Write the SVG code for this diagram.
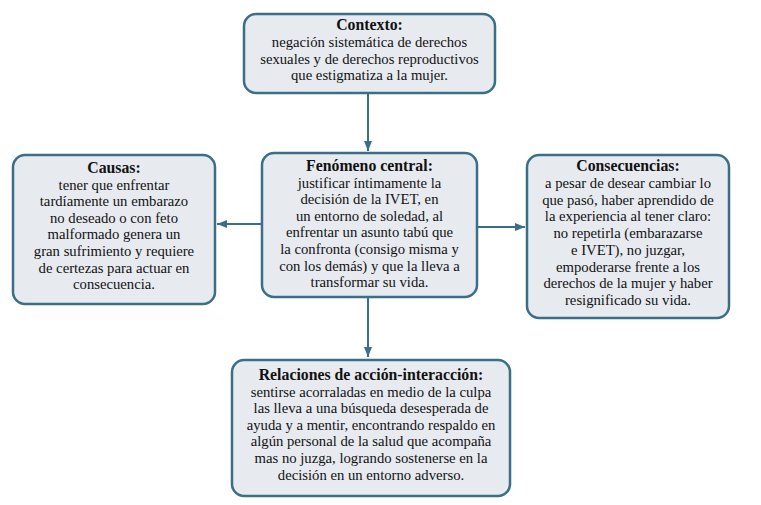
<svg xmlns="http://www.w3.org/2000/svg" width="761" height="505" viewBox="0 0 761 505">
<defs>
<style>
.box{fill:#e7ebf0;stroke:#3b6f88;stroke-width:2.5}
.t{font-family:"Liberation Serif","Times New Roman",serif;font-size:14.7px;fill:#111111;text-anchor:middle}
.b{font-weight:bold;font-size:15.8px}
.c{stroke:#3b6f88;stroke-width:2;fill:none}
</style>
<marker id="ah" viewBox="0 0 10 8" refX="10" refY="4" markerWidth="10" markerHeight="8" orient="auto" markerUnits="userSpaceOnUse">
<path d="M0,0 L10,4 L0,8 z" fill="#3b6f88"/>
</marker>
</defs>
<rect width="761" height="505" fill="#ffffff"/>
<g id="connectors">
<line class="c" x1="368" y1="94" x2="368" y2="151" marker-end="url(#ah)"/>
<line class="c" x1="262" y1="224" x2="217" y2="224" marker-end="url(#ah)"/>
<line class="c" x1="477" y1="227" x2="525" y2="227" marker-end="url(#ah)"/>
<line class="c" x1="368" y1="298" x2="368" y2="357" marker-end="url(#ah)"/>
</g>
<g id="contexto">
<rect class="box" x="244" y="14" width="251" height="79" rx="12"/>
<text class="t" x="369.5" y="30"><tspan class="b" x="369.5">Contexto:</tspan><tspan x="369.5" dy="17">negación sistemática de derechos</tspan><tspan x="369.5" dy="16.5">sexuales y de derechos reproductivos</tspan><tspan x="369.5" dy="16.5">que estigmatiza a la mujer.</tspan></text>
</g>
<g id="causas">
<rect class="box" x="13" y="155" width="202" height="149" rx="12"/>
<text class="t" x="114" y="173"><tspan class="b" x="114">Causas:</tspan><tspan x="114" dy="16.6">tener que enfrentar</tspan><tspan x="114" dy="16.6">tardíamente un embarazo</tspan><tspan x="114" dy="16.6">no deseado o con feto</tspan><tspan x="114" dy="16.6">malformado genera un</tspan><tspan x="114" dy="16.6">gran sufrimiento y requiere</tspan><tspan x="114" dy="16.6">de certezas para actuar en</tspan><tspan x="114" dy="16.6">consecuencia.</tspan></text>
</g>
<g id="central">
<rect class="box" x="262" y="153" width="215" height="144" rx="12"/>
<text class="t" x="369.5" y="171"><tspan class="b" x="369.5">Fenómeno central:</tspan><tspan x="369.5" dy="16.6">justificar íntimamente la</tspan><tspan x="369.5" dy="16.6">decisión de la IVET, en</tspan><tspan x="369.5" dy="16.6">un entorno de soledad, al</tspan><tspan x="369.5" dy="16.6">enfrentar un asunto tabú que</tspan><tspan x="369.5" dy="16.6">la confronta (consigo misma y</tspan><tspan x="369.5" dy="16.6">con los demás) y que la lleva a</tspan><tspan x="369.5" dy="16.6">transformar su vida.</tspan></text>
</g>
<g id="consecuencias">
<rect class="box" x="527" y="155" width="202" height="163" rx="12"/>
<text class="t" x="628" y="171"><tspan class="b" x="628">Consecuencias:</tspan><tspan x="628" dy="16.75">a pesar de desear cambiar lo</tspan><tspan x="628" dy="16.75">que pasó, haber aprendido de</tspan><tspan x="628" dy="16.75">la experiencia al tener claro:</tspan><tspan x="628" dy="16.75">no repetirla (embarazarse</tspan><tspan x="628" dy="16.75">e IVET), no juzgar,</tspan><tspan x="628" dy="16.75">empoderarse frente a los</tspan><tspan x="628" dy="16.75">derechos de la mujer y haber</tspan><tspan x="628" dy="16.75">resignificado su vida.</tspan></text>
</g>
<g id="relaciones">
<rect class="box" x="232" y="360" width="278" height="136" rx="12"/>
<text class="t" x="371" y="380"><tspan class="b" x="371">Relaciones de acción-interacción:</tspan><tspan x="371" dy="16.6">sentirse acorraladas en medio de la culpa</tspan><tspan x="371" dy="16.6">las lleva a una búsqueda desesperada de</tspan><tspan x="371" dy="16.6">ayuda y a mentir, encontrando respaldo en</tspan><tspan x="371" dy="16.6">algún personal de la salud que acompaña</tspan><tspan x="371" dy="16.6">mas no juzga, logrando sostenerse en la</tspan><tspan x="371" dy="16.6">decisión en un entorno adverso.</tspan></text>
</g>
</svg>
